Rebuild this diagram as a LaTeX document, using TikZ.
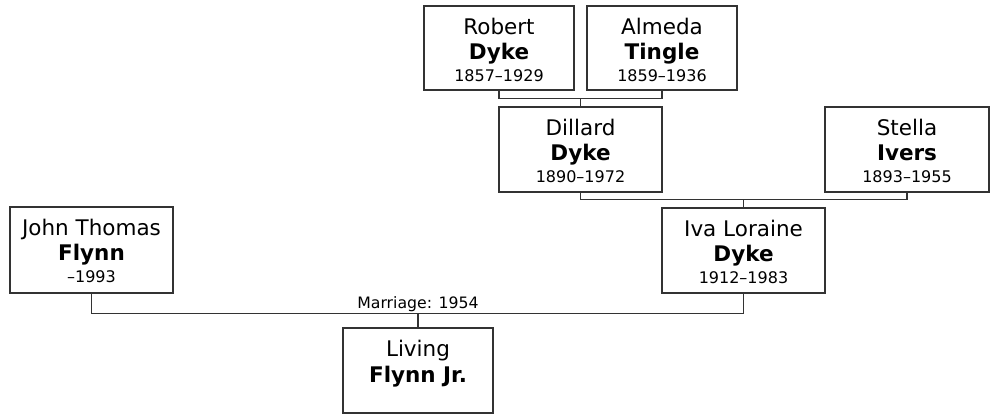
\documentclass[tikz,border=0pt]{standalone}
\usepackage{fontspec}
\setmainfont{DejaVu Sans}
\usetikzlibrary{calc}
\definecolor{linegray}{RGB}{51,51,51}
\tikzset{
  personbox/.style={draw=linegray, line width=1.3pt, rectangle, inner sep=0pt, fill=white},
  firstname/.style={anchor=base, inner sep=0pt, font=\fontsize{21.5}{25}\selectfont},
  lastname/.style={anchor=base, inner sep=0pt, font=\fontsize{21.5}{25}\selectfont\bfseries},
  dates/.style={anchor=base, inner sep=0pt, font=\fontsize{16}{19}\selectfont},
  conn/.style={draw=linegray, line width=1.3pt},
}
% #1 name, #2 x1, #3 y1, #4 x2, #5 y2, #6 first, #7 last, #8 dates
\newcommand{\personnode}[8]{%
  \node[personbox, minimum width=#4-#2, minimum height=#5-#3] (#1) at ({(#2+#4)/2},{(#3+#5)/2}) {};
  \node[firstname] (#1-f) at ($(#1.north)+(0,29)$) {#6};
  \node[lastname] (#1-l) at ($(#1.north)+(0,54)$) {#7};
  \node[dates] (#1-d) at ($(#1.north)+(0,76)$) {#8};
}
\begin{document}
\begin{tikzpicture}[x=1pt,y=-1pt]
\useasboundingbox (0,0) rectangle (992,416);
\personnode{rob}{424}{6}{574}{90}{Robert}{Dyke}{1857–1929}
\personnode{alm}{587}{6}{737}{90}{Almeda}{Tingle}{1859–1936}
\personnode{dil}{499}{107}{662}{192}{Dillard}{Dyke}{1890–1972}
\personnode{ste}{825}{107}{989}{192}{Stella}{Ivers}{1893–1955}
\personnode{iva}{662}{208}{825}{293}{Iva Loraine}{Dyke}{1912–1983}
\personnode{joh}{10}{207}{173}{293}{John Thomas}{Flynn}{–1993}
\node[personbox, minimum width=150, minimum height=85] (liv) at (418,370.5) {};
\node[firstname] (liv-f) at ($(liv.north)+(0,29)$) {Living};
\node[lastname] (liv-l) at ($(liv.north)+(0,55)$) {Flynn Jr.};

\coordinate (m1) at ($(dil.north)+(0,-8)$);
\draw[conn] (rob.south) |- (m1) -| (alm.south);
\draw[conn] (m1) -- (dil.north);

\coordinate (m2) at ($(iva.north)+(0,-8)$);
\draw[conn] (dil.south) |- (m2) -| (ste.south);
\draw[conn] (m2) -- (iva.north);

\coordinate (m3) at ($(liv.north)+(0,-14)$);
\draw[conn] (joh.south) |- (m3) -| (iva.south);
\draw[conn] (m3) -- (liv.north);
\node[dates, font=\fontsize{15.7}{18}\selectfont] (mlabel) at ($(m3)+(0,-5)$) {Marriage: 1954};
\end{tikzpicture}
\end{document}
